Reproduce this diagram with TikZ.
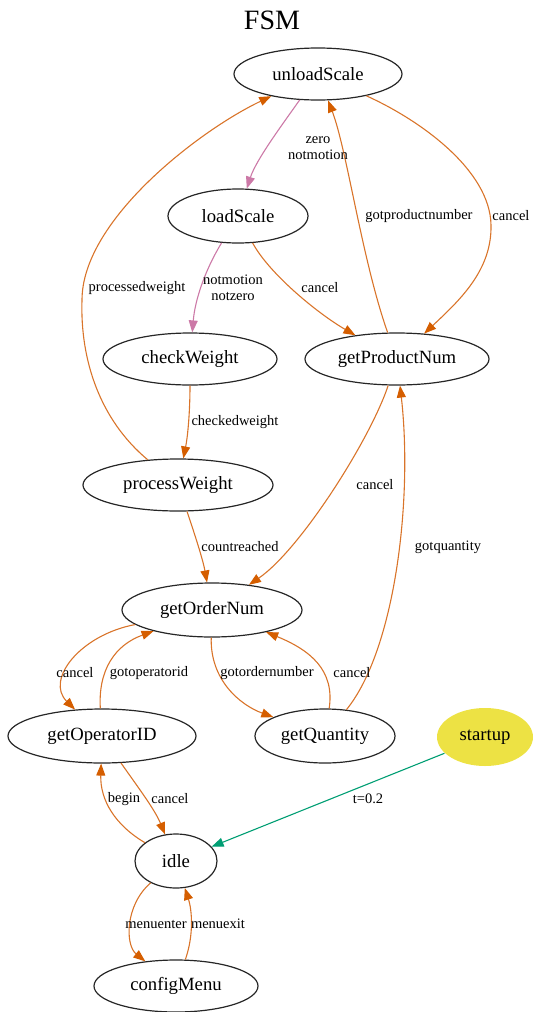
\documentclass[tikz,border=0pt]{standalone}
\usepackage{fontspec}
\setmainfont{Liberation Serif}
\usetikzlibrary{arrows.meta,shapes.geometric}
\definecolor{vermil}{HTML}{D55E00}
\definecolor{vline}{HTML}{D9742A}
\definecolor{rpurple}{HTML}{CC79A7}
\definecolor{bgreen}{HTML}{009E73}
\definecolor{syellow}{HTML}{EDE244}
\begin{document}
\begin{tikzpicture}[x=1pt,y=-1pt,
 state/.style={ellipse,draw=black!85,line width=1.2pt,inner sep=0pt,font=\fontsize{18.7}{20}\selectfont},
 edge/.style={draw=vline,line width=1.1pt,-{Triangle[length=12pt,width=9pt,color=vermil]}},
 pedge/.style={draw=rpurple,line width=1.1pt,-{Triangle[length=12pt,width=9pt]}},
 gedge/.style={draw=bgreen,line width=1.1pt,-{Triangle[length=12pt,width=9pt]}},
 lbl/.style={font=\fontsize{14.5}{16}\selectfont,inner sep=0pt,align=center}]
\useasboundingbox (0,0) rectangle (544,1012);
\node[font=\fontsize{28}{30}\selectfont,inner sep=0pt] (title) at (272,20) {FSM};
% states
\node[state,minimum width=168pt,minimum height=52pt] (U) at (318,74) {unloadScale};
\node[state,minimum width=140pt,minimum height=54pt] (L) at (238,216) {loadScale};
\node[state,minimum width=174pt,minimum height=52pt] (C) at (190,359) {checkWeight};
\node[state,minimum width=184pt,minimum height=52pt] (P) at (397,359) {getProductNum};
\node[state,minimum width=190pt,minimum height=52pt] (W) at (178,485) {processWeight};
\node[state,minimum width=180pt,minimum height=54pt] (O) at (212,610) {getOrderNum};
\node[state,minimum width=188pt,minimum height=54pt] (I) at (102,736) {getOperatorID};
\node[state,minimum width=140pt,minimum height=54pt] (Q) at (325,736) {getQuantity};
\node[state,draw=none,fill=syellow,minimum width=96pt,minimum height=58pt] (S) at (485,737) {startup};
\node[state,minimum width=82pt,minimum height=54pt] (D) at (176,861) {idle};
\node[state,minimum width=164pt,minimum height=52pt] (M) at (176,986) {configMenu};
% edges
\draw[pedge] (U) .. controls (282,125) and (256,160) .. (L);
\draw[pedge] (L) .. controls (205,270) and (195,300) .. (C);
\draw[edge] (L) .. controls (270,275) and (320,315) .. (P);
\draw[edge] (C) .. controls (190,410) and (188,435) .. (W);
\draw[edge] (W) .. controls (100,420) and (80,360) .. (82,300) .. controls (82,220) and (200,130) .. (U);
\draw[edge] (P) .. controls (362,260) and (347,150) .. (U);
\draw[edge] (U) .. controls (420,120) and (490,170) .. (491,225) .. controls (492,270) and (460,300) .. (P);
\draw[edge] (W) .. controls (195,535) and (203,560) .. (O);
\draw[edge] (P) .. controls (370,440) and (300,550) .. (O);
\draw[edge] (Q) .. controls (395,650) and (413,500) .. (P);
\draw[edge] (O) .. controls (80,635) and (45,680) .. (I);
\draw[edge] (I) .. controls (98,670) and (115,645) .. (O);
\draw[edge] (O) .. controls (210,680) and (240,705) .. (Q);
\draw[edge] (Q) .. controls (335,670) and (310,650) .. (O);
\draw[edge] (I) .. controls (140,790) and (155,810) .. (D);
\draw[edge] (D) .. controls (115,825) and (100,800) .. (I);
\draw[gedge] (S) -- (D);
\draw[edge] (D) .. controls (125,905) and (125,945) .. (M);
\draw[edge] (M) .. controls (194,935) and (192,910) .. (D);
% labels
\node[lbl] (l1) at (318,148) {zero\\notmotion};
\node[lbl] (l2) at (233,288) {notmotion\\notzero};
\node[lbl] (l3) at (320,288) {cancel};
\node[lbl] (l4) at (137,288) {processedweight};
\node[lbl] (l5) at (419,216) {gotproductnumber};
\node[lbl] (l6) at (511,216) {cancel};
\node[lbl] (l7) at (235,422) {checkedweight};
\node[lbl] (l8) at (375,485) {cancel};
\node[lbl] (l9) at (240,547) {countreached};
\node[lbl] (l10) at (448,547) {gotquantity};
\node[lbl] (l11) at (75,673) {cancel};
\node[lbl] (l12) at (149,673) {gotoperatorid};
\node[lbl] (l13) at (267,673) {gotordernumber};
\node[lbl] (l14) at (352,673) {cancel};
\node[lbl] (l15) at (124,799) {begin};
\node[lbl] (l16) at (170,799) {cancel};
\node[lbl] (l17) at (368,799) {t=0.2};
\node[lbl] (l18) at (156,924) {menuenter};
\node[lbl] (l19) at (218,924) {menuexit};
\end{tikzpicture}
\end{document}
